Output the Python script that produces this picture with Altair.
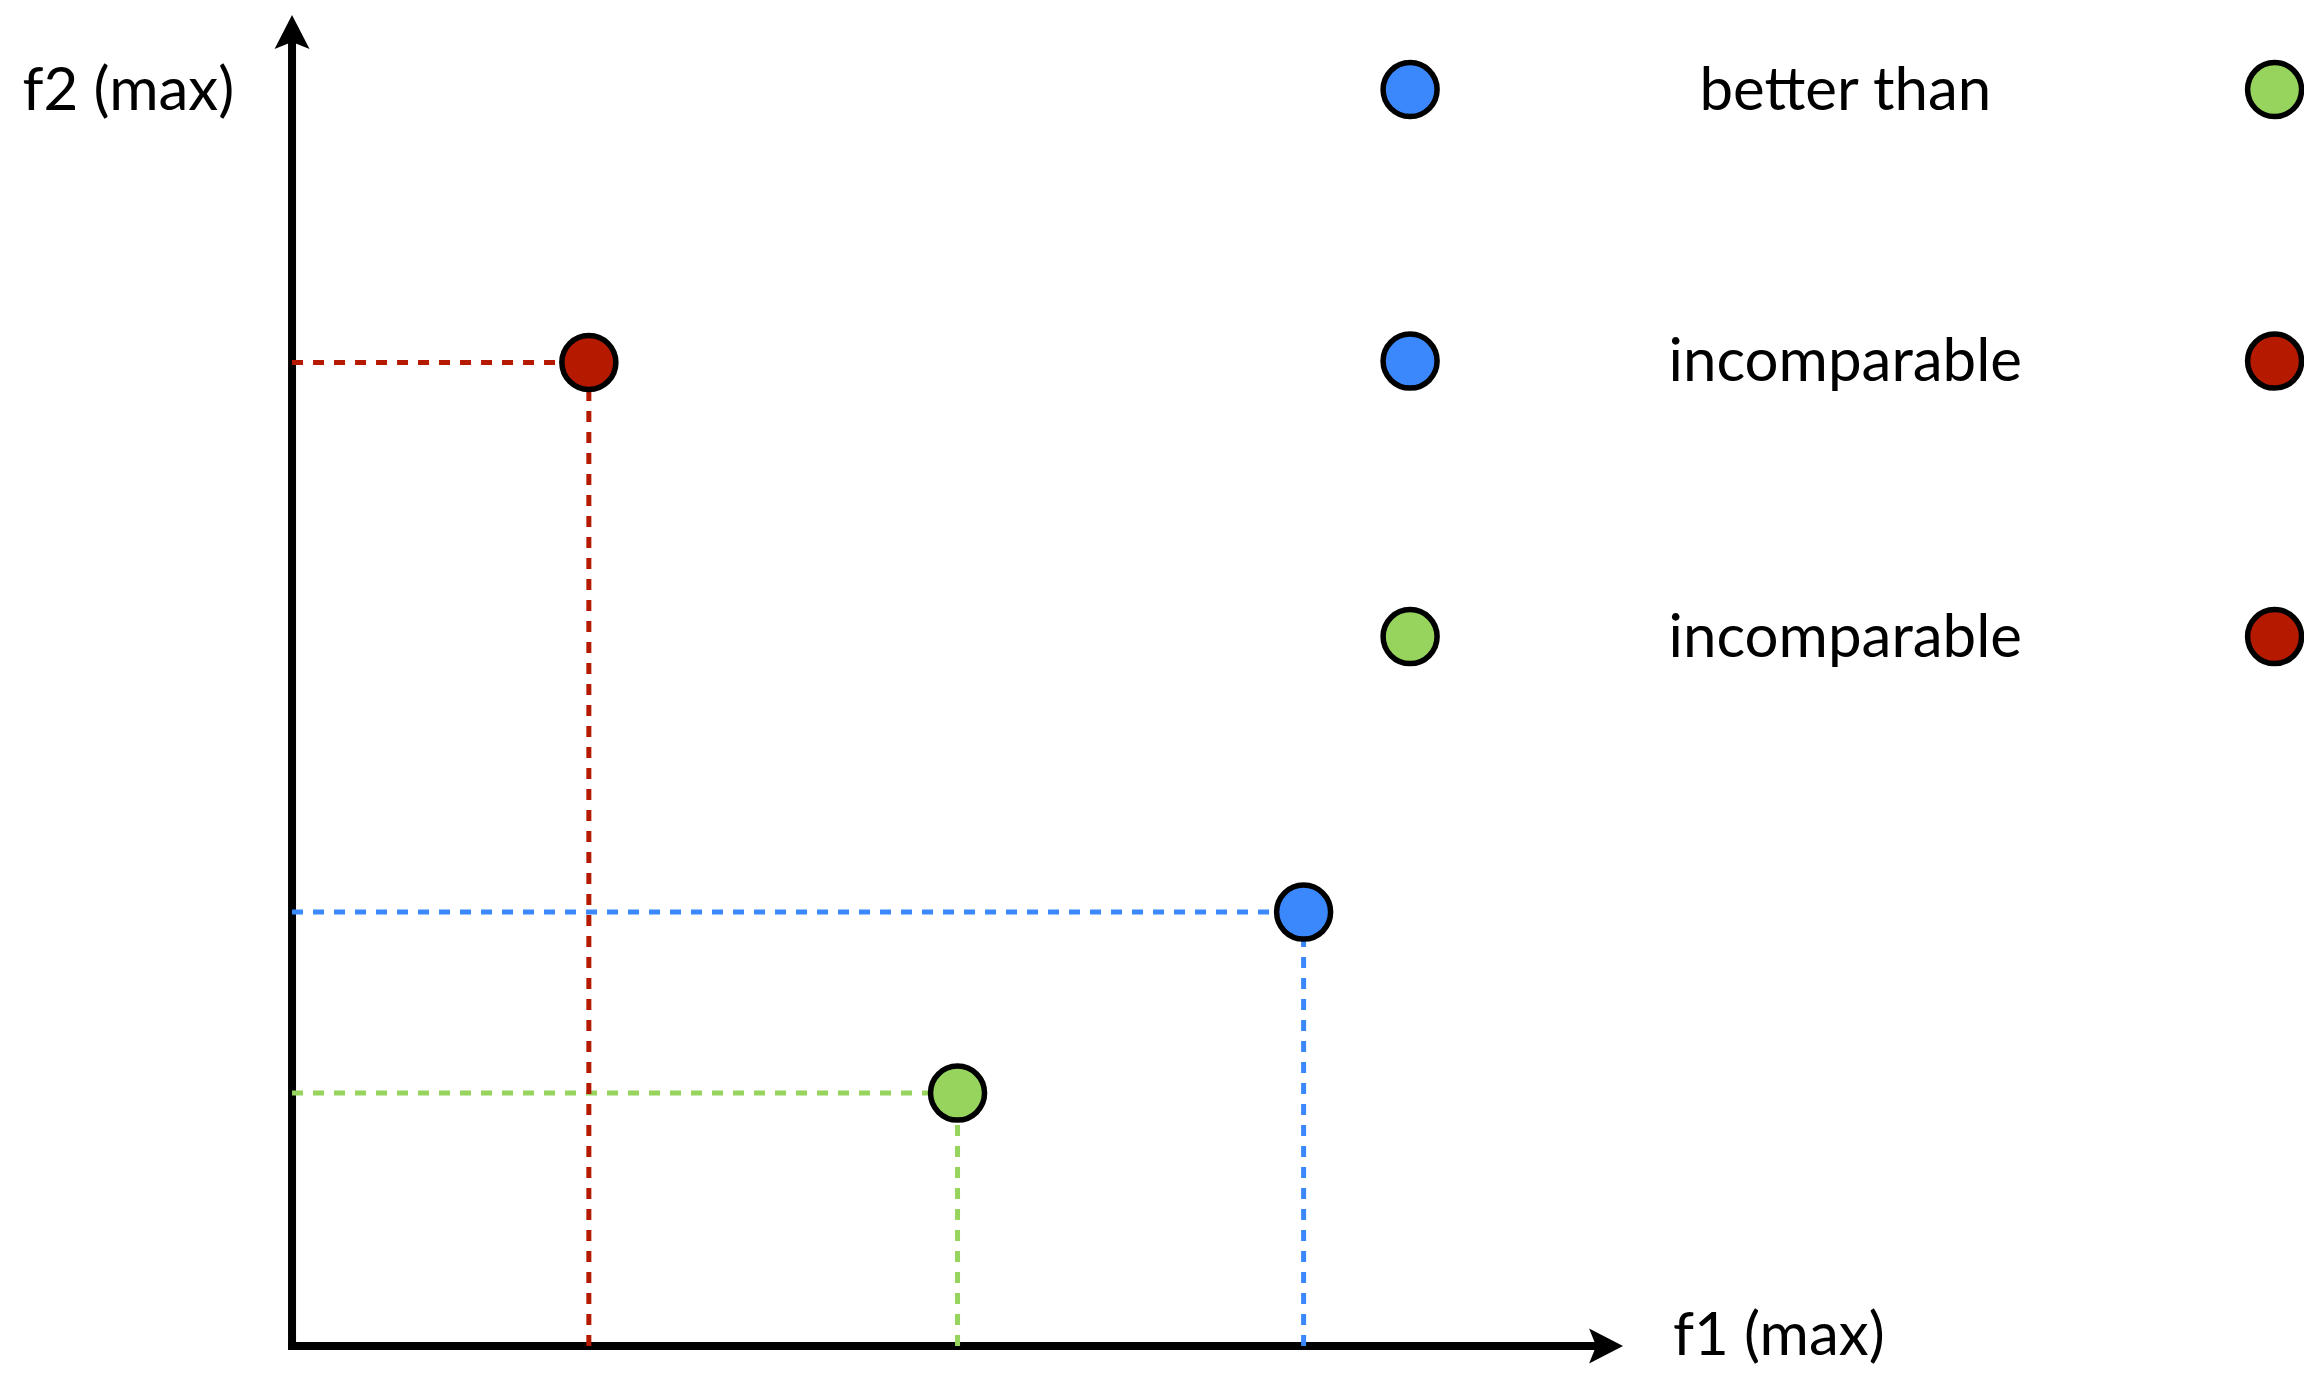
import altair as alt
import pandas as pd

# ---- data (chart units) ----
names = ["blue", "green", "red"]
f1 = [7.6, 5.0, 2.23]
f2 = [3.26, 1.9, 7.39]
colors = ["#3B88FD", "#97D45E", "#B51A00"]

row_labels = ["better than", "incomparable", "incomparable"]
row_left = ["blue", "blue", "green"]
row_right = ["green", "red", "red"]
row_y = [9.44, 7.40, 5.33]
row_left_x = 8.40
row_text_x = 11.67
row_right_x = 14.895

axis_titles = ["f1 (max)", "f2 (max)"]
axis_title_x = [11.17, -1.23]
axis_title_y = [-0.068, 9.286]
axis_end = 10.0
shaft_end = 9.8

FONT = "Lato"
FS = 60
FW = 400
DOT = 2916

xs = alt.Scale(domain=[-2.134, 15.116], nice=False, zero=False)
ys = alt.Scale(domain=[-0.158, 10.053], nice=False, zero=False)
cscale = alt.Scale(domain=names, range=colors)

pts = pd.DataFrame({"name": names, "f1": f1, "f2": f2, "zero": [0.0] * 3})

# dashed guide lines
hlines = alt.Chart(pts).mark_rule(strokeWidth=5, strokeDash=[11, 10]).encode(
    x=alt.X("zero:Q", scale=xs, axis=None),
    x2="f1:Q",
    y=alt.Y("f2:Q", scale=ys, axis=None),
    color=alt.Color("name:N", scale=cscale, legend=None),
)
vlines = alt.Chart(pts).mark_rule(strokeWidth=5, strokeDash=[11, 10]).encode(
    x=alt.X("f1:Q", scale=xs, axis=None),
    y=alt.Y("zero:Q", scale=ys, axis=None),
    y2="f2:Q",
    color=alt.Color("name:N", scale=cscale, legend=None),
)

# axes
axes_df = pd.DataFrame({"x": [0.0, 0.0], "x2": [shaft_end, 0.0], "y": [0.0, 0.0], "y2": [0.0, shaft_end]})
axes = alt.Chart(axes_df).mark_rule(strokeWidth=8, color="black", strokeCap="square").encode(
    x=alt.X("x:Q", scale=xs, axis=None), x2="x2:Q",
    y=alt.Y("y:Q", scale=ys, axis=None), y2="y2:Q",
)
up_df = pd.DataFrame({"x": [0.0], "y": [axis_end]})
right_df = pd.DataFrame({"x": [axis_end], "y": [0.0]})
arrow_up = alt.Chart(up_df).mark_point(
    shape="M0,0 L1,1.94 L0,1.54 L-1,1.94 Z", size=1225, filled=True, color="black", opacity=1
).encode(x=alt.X("x:Q", scale=xs, axis=None), y=alt.Y("y:Q", scale=ys, axis=None))
arrow_right = alt.Chart(right_df).mark_point(
    shape="M0,0 L-1.94,-1 L-1.54,0 L-1.94,1 Z", size=1225, filled=True, color="black", opacity=1
).encode(x=alt.X("x:Q", scale=xs, axis=None), y=alt.Y("y:Q", scale=ys, axis=None))

# points
points = alt.Chart(pts).mark_point(
    filled=True, size=DOT, stroke="black", strokeWidth=5.5, opacity=1
).encode(
    x=alt.X("f1:Q", scale=xs, axis=None),
    y=alt.Y("f2:Q", scale=ys, axis=None),
    fill=alt.Fill("name:N", scale=cscale, legend=None),
)

# comparison rows
rows = pd.DataFrame({
    "label": row_labels, "left": row_left, "right": row_right, "y": row_y,
    "lx": [row_left_x] * 3, "tx": [row_text_x] * 3, "rx": [row_right_x] * 3,
})
left_c = alt.Chart(rows).mark_point(
    filled=True, size=DOT, stroke="black", strokeWidth=5.5, opacity=1
).encode(
    x=alt.X("lx:Q", scale=xs, axis=None), y=alt.Y("y:Q", scale=ys, axis=None),
    fill=alt.Fill("left:N", scale=cscale, legend=None),
)
right_c = alt.Chart(rows).mark_point(
    filled=True, size=DOT, stroke="black", strokeWidth=5.5, opacity=1
).encode(
    x=alt.X("rx:Q", scale=xs, axis=None), y=alt.Y("y:Q", scale=ys, axis=None),
    fill=alt.Fill("right:N", scale=cscale, legend=None),
)
row_text = alt.Chart(rows).mark_text(
    font=FONT, fontSize=FS, fontWeight=FW, color="black", align="center", baseline="alphabetic", dy=20
).encode(
    x=alt.X("tx:Q", scale=xs, axis=None), y=alt.Y("y:Q", scale=ys, axis=None), text="label:N",
)

titles_df = pd.DataFrame({"t": axis_titles, "x": axis_title_x, "y": axis_title_y})
titles = alt.Chart(titles_df).mark_text(
    font=FONT, fontSize=FS, fontWeight=FW, color="black", align="center", baseline="alphabetic"
).encode(
    x=alt.X("x:Q", scale=xs, axis=None), y=alt.Y("y:Q", scale=ys, axis=None), text="t:N",
)

chart = alt.layer(
    axes, hlines, vlines, arrow_up, arrow_right, points, left_c, right_c, row_text, titles
).properties(
    width=2296, height=1359, padding=0, autosize=alt.AutoSizeParams(type="none"),
    background="white",
).configure_view(stroke=None)

chart.save("out.html", embed_options={"renderer": "svg", "actions": False})
